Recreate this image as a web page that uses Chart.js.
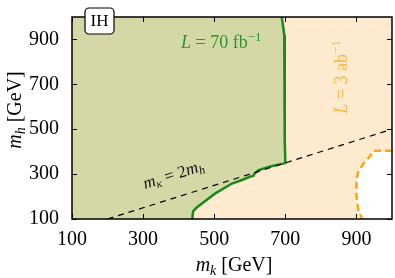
<!DOCTYPE html>
<html>
<head>
<meta charset="utf-8">
<script src="https://cdn.jsdelivr.net/npm/chart.js@4.4.1/dist/chart.umd.min.js"></script>
<style>
  html, body { margin: 0; padding: 0; background: #fff; }
</style>
</head>
<body>
<canvas id="chart" width="395" height="278"></canvas>
<script>
// axis ticks
const xTicks = [100, 300, 500, 700, 900];
const yTicks = [100, 300, 500, 700, 900];

// L = 70 fb^-1 exclusion boundary (m_k, m_h)
const greenX = [690, 697, 698, 698, 699, 700, 660, 625, 614, 610, 600, 582, 550, 502, 470, 450, 441, 439, 439];
const greenY = [1000, 920, 800, 600, 450, 349, 335, 318, 303, 292, 288, 276, 258, 213, 175, 150, 135, 115, 100];

// L = 3 ab^-1 boundary
const orangeX = [1000, 947, 938, 919, 905, 900, 900, 905, 915, 917];
const orangeY = [404, 404, 379, 345, 310, 275, 207, 144, 103, 100];

// m_kappa = 2 m_h
const diagX = [200, 1000];
const diagY = [100, 500];

const serif = '"Liberation Serif", "DejaVu Serif", serif';
const pts = (xs, ys) => xs.map((x, i) => ({ x, y: ys[i] }));

const greenPoly = pts(greenX, greenY).concat([{ x: 100, y: 100 }, { x: 100, y: 1000 }]);
const whitePoly = pts(orangeX, orangeY).concat([{ x: 1000, y: 100 }]);
const fullPoly = [{ x: 100, y: 100 }, { x: 1000, y: 100 }, { x: 1000, y: 1000 }, { x: 100, y: 1000 }];

function drawRich(ctx, parts, x, y, angle, align) {
  ctx.save();
  ctx.translate(x, y);
  ctx.rotate(angle);
  ctx.textBaseline = 'alphabetic';
  ctx.textAlign = 'left';
  let w = 0;
  parts.forEach(p => { ctx.font = p.f; w += ctx.measureText(p.t).width; });
  let cx = align === 'center' ? -w / 2 : 0;
  parts.forEach(p => {
    ctx.font = p.f;
    ctx.fillStyle = p.c;
    ctx.fillText(p.t, cx, p.dy || 0);
    cx += ctx.measureText(p.t).width;
  });
  ctx.restore();
}

const decor = {
  id: 'decor',
  afterDatasetsDraw(chart) {
    const { ctx, chartArea: a, scales: { x, y } } = chart;
    ctx.save();
    // frame
    ctx.strokeStyle = '#000';
    ctx.lineWidth = 1.5;
    ctx.strokeRect(a.left, a.top, a.right - a.left, a.bottom - a.top);
    // inward ticks on all sides
    ctx.lineWidth = 1;
    ctx.beginPath();
    xTicks.forEach(v => {
      const px = Math.round(x.getPixelForValue(v)) + 0.5;
      ctx.moveTo(px, a.bottom); ctx.lineTo(px, a.bottom - 5);
      ctx.moveTo(px, a.top); ctx.lineTo(px, a.top + 5);
    });
    yTicks.forEach(v => {
      const py = Math.round(y.getPixelForValue(v)) + 0.5;
      ctx.moveTo(a.left, py); ctx.lineTo(a.left + 5, py);
      ctx.moveTo(a.right, py); ctx.lineTo(a.right - 5, py);
    });
    ctx.stroke();

    // IH box
    const bx = 85, by = 8, bw = 29, bh = 26, r = 4;
    ctx.beginPath();
    ctx.roundRect(bx, by, bw, bh, r);
    ctx.fillStyle = '#fff';
    ctx.fill();
    ctx.lineWidth = 1.2;
    ctx.stroke();
    ctx.fillStyle = '#000';
    ctx.font = '17px ' + serif;
    ctx.textAlign = 'center';
    ctx.textBaseline = 'middle';
    ctx.fillText('IH', bx + bw / 2, by + bh / 2 + 1);
    ctx.restore();

    const it = s => 'italic ' + s + 'px ' + serif;
    const rm = s => s + 'px ' + serif;
    const green = '#2a962a', orange = '#ffb444', black = '#111';

    drawRich(ctx, [
      { t: 'L', f: it(18), c: green },
      { t: ' = 70 fb', f: rm(18), c: green },
      { t: '\u22121', f: rm(13), c: green, dy: -7 }
    ], 181, 48, 0, 'left');

    drawRich(ctx, [
      { t: 'L', f: it(18), c: orange },
      { t: ' = 3 ab', f: rm(18), c: orange },
      { t: '\u22121', f: rm(13), c: orange, dy: -7 }
    ], 347, 77, -Math.PI / 2, 'center');

    const ang = Math.atan2(y.getPixelForValue(diagY[1]) - y.getPixelForValue(diagY[0]),
                           x.getPixelForValue(diagX[1]) - x.getPixelForValue(diagX[0]));
    drawRich(ctx, [
      { t: 'm', f: it(17), c: black },
      { t: '\u03ba', f: it(12), c: black, dy: 3 },
      { t: ' = 2', f: rm(17), c: black },
      { t: 'm', f: it(17), c: black },
      { t: 'h', f: it(12), c: black, dy: 3 }
    ], 145, 189, ang, 'left');

    // axis titles
    drawRich(ctx, [
      { t: 'm', f: it(20), c: '#000' },
      { t: 'k', f: it(14), c: '#000', dy: 4 },
      { t: ' [GeV]', f: rm(20), c: '#000' }
    ], 234, 271, 0, 'center');
    drawRich(ctx, [
      { t: 'm', f: it(20), c: '#000' },
      { t: 'h', f: it(14), c: '#000', dy: 4 },
      { t: ' [GeV]', f: rm(20), c: '#000' }
    ], 21, 110, -Math.PI / 2, 'center');
  }
};

new Chart(document.getElementById('chart'), {
  type: 'scatter',
  data: {
    datasets: [
      { data: fullPoly, showLine: true, fill: 'shape', backgroundColor: '#feebcf', borderWidth: 0, pointRadius: 0, order: 10 },
      { data: whitePoly, showLine: true, fill: 'shape', backgroundColor: '#ffffff', borderWidth: 0, pointRadius: 0, order: 9 },
      { data: greenPoly, showLine: true, fill: 'shape', backgroundColor: '#d4d8a7', borderWidth: 0, pointRadius: 0, order: 8 },
      { data: pts(greenX, greenY), showLine: true, borderColor: '#178a17', borderWidth: 2.5, pointRadius: 0, order: 3 },
      { data: pts(orangeX, orangeY), showLine: true, borderColor: '#ffa510', borderWidth: 2.5, borderDash: [7, 4], pointRadius: 0, order: 3 },
      { data: pts(diagX, diagY), showLine: true, borderColor: '#000', borderWidth: 1.2, borderDash: [6, 5], pointRadius: 0, order: 2 }
    ]
  },
  options: {
    responsive: false,
    animation: false,
    layout: { padding: { left: 0, right: 3, top: 2, bottom: 0 } },
    plugins: { legend: { display: false }, tooltip: { enabled: false } },
    scales: {
      x: {
        type: 'linear', min: 100, max: 1000,
        afterBuildTicks: s => { s.ticks = xTicks.map(v => ({ value: v })); },
        afterFit: s => { s.height = 59; },
        grid: { display: false }, border: { display: false },
        ticks: { color: '#000', font: { family: serif, size: 20 }, padding: 1, maxRotation: 0, autoSkip: false }
      },
      y: {
        type: 'linear', min: 100, max: 1000,
        afterBuildTicks: s => { s.ticks = yTicks.map(v => ({ value: v })); },
        afterFit: s => { s.width = 72; },
        grid: { display: false }, border: { display: false },
        ticks: { color: '#000', font: { family: serif, size: 20 }, padding: 5, autoSkip: false }
      }
    }
  },
  plugins: [decor]
});
</script>
</body>
</html>
